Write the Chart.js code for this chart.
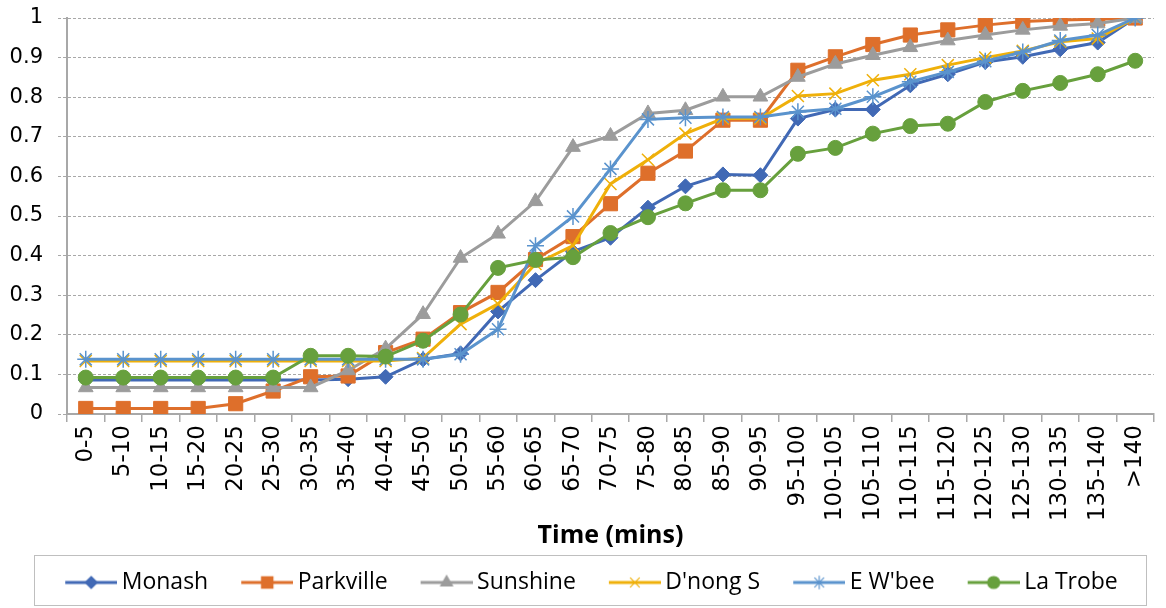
<!DOCTYPE html>
<html>
<head>
<meta charset="utf-8">
<script src="https://cdn.jsdelivr.net/npm/chart.js@4"></script>
<style>
  html, body { margin: 0; padding: 0; background: #fff; }
  #wrap { width: 1166px; height: 608px; }
</style>
</head>
<body>
<div id="wrap"><canvas id="chart" width="1166" height="608"></canvas></div>
<script>
const categories = ['0-5', '5-10', '10-15', '15-20', '20-25', '25-30', '30-35', '35-40', '40-45', '45-50',
    '50-55', '55-60', '60-65', '65-70', '70-75', '75-80', '80-85', '85-90', '90-95', '95-100',
    '100-105', '105-110', '110-115', '115-120', '120-125', '125-130', '130-135', '135-140', '>140'];

const monash = [0.086, 0.086, 0.086, 0.086, 0.086, 0.086, 0.086, 0.088, 0.094, 0.138,
    0.153, 0.259, 0.338, 0.410, 0.445, 0.521, 0.575, 0.605, 0.603, 0.746,
    0.769, 0.769, 0.830, 0.858, 0.889, 0.902, 0.921, 0.938, 1.0];
const parkville = [0.014, 0.014, 0.014, 0.014, 0.026, 0.058, 0.094, 0.096, 0.155, 0.189,
    0.256, 0.307, 0.390, 0.448, 0.531, 0.608, 0.664, 0.742, 0.742, 0.868,
    0.902, 0.933, 0.957, 0.970, 0.982, 0.991, 0.995, 0.997, 1.0];
const sunshine = [0.067, 0.067, 0.067, 0.067, 0.067, 0.067, 0.067, 0.110, 0.165, 0.252,
    0.394, 0.455, 0.537, 0.674, 0.702, 0.759, 0.767, 0.801, 0.801, 0.851,
    0.884, 0.906, 0.926, 0.943, 0.957, 0.970, 0.980, 0.986, 1.0];
const dnong = [0.134, 0.134, 0.134, 0.134, 0.134, 0.134, 0.134, 0.134, 0.134, 0.141,
    0.227, 0.278, 0.379, 0.425, 0.581, 0.642, 0.708, 0.746, 0.746, 0.803,
    0.809, 0.843, 0.858, 0.881, 0.900, 0.917, 0.940, 0.948, 1.0];
const ewbee = [0.138, 0.138, 0.138, 0.138, 0.138, 0.138, 0.138, 0.138, 0.138, 0.138,
    0.151, 0.214, 0.425, 0.499, 0.619, 0.744, 0.748, 0.750, 0.750, 0.763,
    0.771, 0.801, 0.839, 0.864, 0.891, 0.914, 0.943, 0.957, 1.0];
const latrobe = [0.092, 0.092, 0.092, 0.092, 0.092, 0.092, 0.147, 0.147, 0.145, 0.185,
    0.251, 0.369, 0.389, 0.396, 0.457, 0.497, 0.532, 0.565, 0.565, 0.657,
    0.672, 0.708, 0.727, 0.733, 0.788, 0.816, 0.836, 0.858, 0.892];

const seriesNames = ['Monash', 'Parkville', 'Sunshine', "D'nong S", "E W'bee", 'La Trobe'];
const yTickLabels = ['0', '0.1', '0.2', '0.3', '0.4', '0.5', '0.6', '0.7', '0.8', '0.9', '1'];
const xTitle = 'Time (mins)';

// look of each series (Excel-like markers)
const seriesStyles = [
    { color: '#4169B5', marker: 'rectRot', radius: 7.5 },
    { color: '#DE6F2B', marker: 'rect', radius: 10 },
    { color: '#9C9C9C', marker: 'triangle', radius: 8.5 },
    { color: '#EFB00A', marker: 'crossRot', radius: 8.5 },
    { color: '#5A93CD', marker: 'star', radius: 8.5 },
    { color: '#67A03D', marker: 'circle', radius: 7.5 }
];
const allSeries = [monash, parkville, sunshine, dnong, ewbee, latrobe];

const GRID = '#A8A8A8';
const FONT = "'Open Sans', sans-serif";
const TICK_FONT = "'DejaVu Sans', sans-serif";
const LEGEND_SIZE = 23;

// small canvas used as legend symbol: line with the marker in its middle
const ICON_PAD = 26, ICON_LINE = 52;
function makeLegendIcon(style) {
    const c = document.createElement('canvas');
    c.width = ICON_PAD + ICON_LINE;
    c.height = 22;
    const g = c.getContext('2d');
    g.strokeStyle = style.color;
    g.fillStyle = style.color;
    g.lineWidth = 3;
    g.beginPath();
    g.moveTo(ICON_PAD, 11);
    g.lineTo(ICON_PAD + ICON_LINE, 11);
    g.stroke();
    g.lineWidth = 1.2;
    Chart.helpers.drawPoint(g, { pointStyle: style.marker, radius: style.radius * 0.8, rotation: 0, borderWidth: 1.2 },
        ICON_PAD + ICON_LINE / 2, 11);
    return c;
}
const legendIcons = seriesStyles.map(makeLegendIcon);

const legendBoxPlugin = {
    id: 'legendBox',
    afterDraw(chart) {
        const lg = chart.legend;
        if (!lg || !lg.legendHitBoxes.length) return;
        const hb = lg.legendHitBoxes;
        const first = hb[0], last = hb[hb.length - 1];
        const ctx = chart.ctx;
        ctx.save();
        ctx.strokeStyle = '#BFBFBF';
        ctx.lineWidth = 1;
        ctx.strokeRect(Math.round(first.left - 12) + 0.5, Math.round(lg.top - 2) + 0.5,
            Math.round(last.left + last.width - first.left + 40), Math.round(lg.height + 3));
        ctx.restore();
    }
};

const datasets = allSeries.map((values, i) => ({
    label: seriesNames[i],
    data: values,
    borderColor: seriesStyles[i].color,
    backgroundColor: seriesStyles[i].color,
    borderWidth: 3,
    pointStyle: seriesStyles[i].marker,
    pointRadius: seriesStyles[i].radius,
    pointHoverRadius: seriesStyles[i].radius,
    pointBorderWidth: seriesStyles[i].marker === 'crossRot' || seriesStyles[i].marker === 'star' ? 1.5 : 1,
    tension: 0,
    order: allSeries.length - i
}));

new Chart(document.getElementById('chart'), {
    type: 'line',
    data: { labels: categories, datasets: datasets },
    plugins: [legendBoxPlugin],
    options: {
        responsive: false,
        animation: false,
        layout: { padding: { top: 18, right: 2, bottom: 4, left: 0 } },
        plugins: {
            tooltip: { enabled: false },
            legend: {
                position: 'bottom',
                labels: {
                    usePointStyle: true,
                    pointStyleWidth: ICON_PAD + ICON_LINE - 14,
                    padding: 14,
                    color: '#000',
                    font: { family: FONT, size: LEGEND_SIZE },
                    generateLabels: chart => chart.data.datasets.map((ds, i) => ({
                        text: ds.label,
                        pointStyle: legendIcons[i],
                        fillStyle: ds.borderColor,
                        strokeStyle: ds.borderColor,
                        lineWidth: 0,
                        hidden: false,
                        datasetIndex: i
                    }))
                }
            }
        },
        scales: {
            x: {
                offset: true,
                grid: {
                    offset: true,
                    drawOnChartArea: false,
                    drawTicks: true,
                    tickLength: 8,
                    color: GRID,
                    lineWidth: 1.5
                },
                border: { display: true, color: GRID, width: 2 },
                ticks: {
                    autoSkip: false,
                    minRotation: 90,
                    maxRotation: 90,
                    padding: 3,
                    color: '#000',
                    font: { family: TICK_FONT, size: 23 }
                },
                title: {
                    display: true,
                    text: xTitle,
                    color: '#000',
                    font: { family: FONT, size: 25, weight: 'bold' },
                    padding: { top: 0, bottom: 6 }
                },
                afterFit: scale => { scale.height = 143; }
            },
            y: {
                min: 0,
                max: 1,
                grid: {
                    color: GRID,
                    lineWidth: 1,
                    tickLength: 9,
                    tickColor: GRID,
                    tickBorderDash: [3, 2]
                },
                border: { display: true, color: GRID, width: 2, dash: [3, 2] },
                ticks: {
                    stepSize: 0.1,
                    padding: 15,
                    color: '#000',
                    font: { family: TICK_FONT, size: 21 },
                    callback: (value, index) => yTickLabels[index]
                },
                afterFit: scale => {
                    scale.width = 67;
                    // tick padding should not push the plot down
                    scale.paddingTop = 0;
                }
            }
        }
    }
});
</script>
</body>
</html>
